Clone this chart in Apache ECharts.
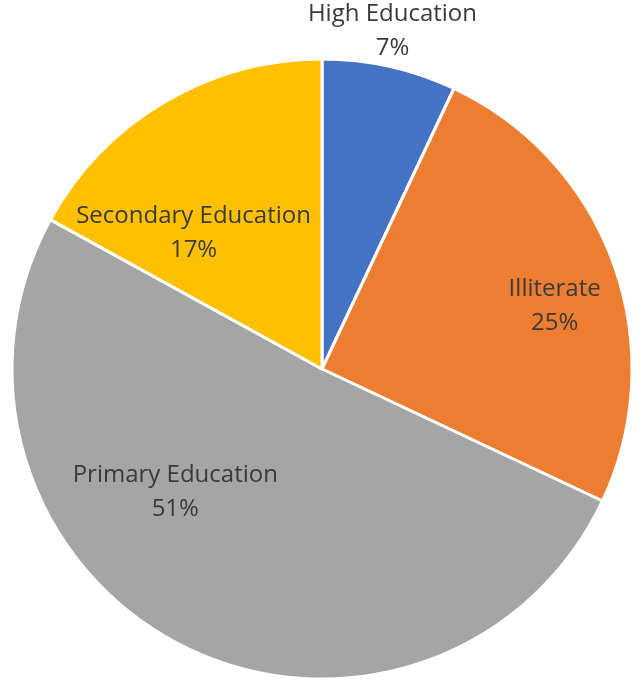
<!DOCTYPE html>
<html>
<head>
<meta charset="utf-8">
<script src="https://cdn.jsdelivr.net/npm/echarts@6/dist/echarts.min.js"></script>
<style>
  html, body { margin: 0; padding: 0; background: #fff; }
  #chart { width: 642px; height: 690px; }
</style>
</head>
<body>
<div id="chart"></div>
<script>
const categories = ['High Education', 'Illiterate', 'Primary Education', 'Secondary Education']
const values = [7, 25, 51, 17]
const colors = ['#4472C4', '#ED7D31', '#A5A5A5', '#FFC000']
// label nudges so they sit where the original put them
const labelOffsets = [[36, -184], [84, -9], [-75, -18], [-48, 0]]

const chart = echarts.init(document.getElementById('chart'))
chart.setOption({
  animation: false,
  series: [{
    type: 'pie',
    center: [322, 369],
    radius: [0, 310],
    startAngle: 90,
    clockwise: true,
    avoidLabelOverlap: false,
    itemStyle: {
      borderColor: '#fff',
      borderWidth: 3
    },
    label: {
      show: true,
      position: 'inside',
      formatter: '{b}\n{d}%',
      fontFamily: 'Open Sans',
      fontSize: 24,
      lineHeight: 34,
      color: '#3a3a3a',
      align: 'center'
    },
    labelLine: { show: false },
    data: categories.map((name, i) => ({
      name: name,
      value: values[i],
      itemStyle: { color: colors[i] },
      label: { offset: labelOffsets[i] }
    }))
  }]
})
</script>
</body>
</html>
